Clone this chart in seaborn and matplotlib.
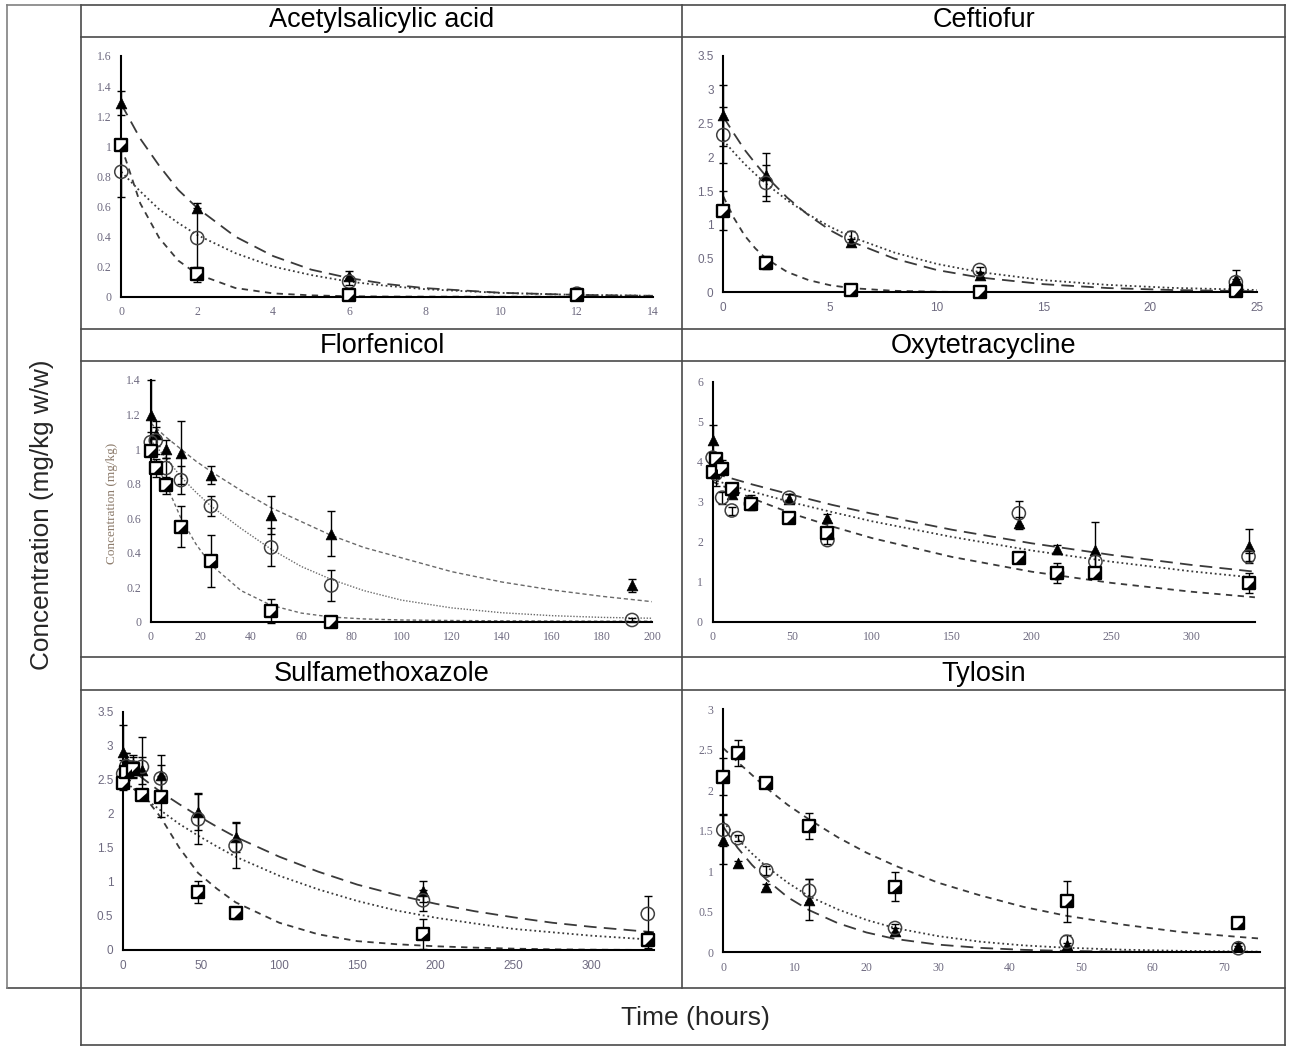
import numpy as np
import matplotlib
matplotlib.use("Agg")
import matplotlib.pyplot as plt
from matplotlib.lines import Line2D
from matplotlib.path import Path
from matplotlib.markers import MarkerStyle
import seaborn as sns

# ---------------- DATA ----------------
titles = ["Acetylsalicylic acid", "Ceftiofur", "Florfenicol",
          "Oxytetracycline", "Sulfamethoxazole", "Tylosin"]
y_label = "Concentration (mg/kg w/w)"
x_label = "Time (hours)"
inner_label = "Concentration (mg/kg)"

# Acetylsalicylic acid
asa_t = [0, 2, 6, 12]
asa_tri = [1.29, 0.59, 0.14, 0.02]
asa_tri_err = [0.08, 0.03, 0.03, 0.01]
asa_cir = [0.83, 0.39, 0.10, 0.02]
asa_cir_err = [0.17, 0.20, 0.02, 0.01]
asa_sq = [1.01, 0.15, 0.01, 0.01]
asa_sq_err = [0.02, 0.05, 0.0, 0.0]
asa_fit_x = [0, 0.5, 1, 1.5, 2, 3, 4, 5, 6, 7, 8, 10, 12, 14]
asa_fit_tri = [1.28, 1.05, 0.87, 0.71, 0.59, 0.40, 0.27, 0.18, 0.124, 0.084, 0.057, 0.026, 0.012, 0.006]
asa_fit_cir = [0.83, 0.70, 0.58, 0.49, 0.41, 0.29, 0.20, 0.144, 0.10, 0.072, 0.05, 0.025, 0.012, 0.006]
asa_fit_sq = [1.0, 0.62, 0.39, 0.24, 0.15, 0.058, 0.022, 0.009, 0.003, 0.001, 0.0005, 0.0, 0.0, 0.0]

# Ceftiofur
cef_t = [0, 2, 6, 12, 24]
cef_tri = [2.62, 1.74, 0.74, 0.26, 0.19]
cef_tri_err = [0.45, 0.32, 0.05, 0.04, 0.14]
cef_cir = [2.33, 1.62, 0.81, 0.33, 0.15]
cef_cir_err = [0.42, 0.27, 0.10, 0.04, 0.05]
cef_sq = [1.21, 0.44, 0.03, 0.0, 0.02]
cef_sq_err = [0.29, 0.10, 0.02, 0.01, 0.01]
cef_fit_x = [0, 0.5, 1, 1.5, 2, 3, 4, 5, 6, 8, 10, 12, 15, 18, 21, 25]
cef_fit_tri = [2.6, 2.35, 2.11, 1.91, 1.72, 1.40, 1.14, 0.92, 0.75, 0.50, 0.33, 0.22, 0.12, 0.063, 0.034, 0.015]
cef_fit_cir = [2.25, 2.07, 1.90, 1.75, 1.61, 1.36, 1.15, 0.97, 0.82, 0.59, 0.42, 0.30, 0.18, 0.11, 0.066, 0.034]
cef_fit_sq = [1.42, 1.10, 0.84, 0.65, 0.50, 0.30, 0.18, 0.105, 0.062, 0.022, 0.008, 0.003, 0.001, 0.0, 0.0, 0.0]

# Florfenicol
flo_t = [0, 2, 6, 12, 24, 48, 72, 192]
flo_tri = [1.20, 1.09, 1.00, 0.98, 0.85, 0.62, 0.51, 0.21]
flo_tri_err = [0.20, 0.07, 0.05, 0.18, 0.05, 0.11, 0.13, 0.04]
flo_cir = [1.04, 1.05, 0.89, 0.82, 0.67, 0.43, 0.21, 0.01]
flo_cir_err = [0.06, 0.08, 0.06, 0.08, 0.06, 0.11, 0.09, 0.01]
flo_sq = [0.99, 0.89, 0.79, 0.55, 0.35, 0.06, 0.0, np.nan]
flo_sq_err = [0.03, 0.05, 0.05, 0.12, 0.15, 0.07, 0.0, 0.0]
flo_fit_x = [0, 6, 12, 18, 24, 36, 48, 60, 72, 85, 100, 120, 140, 160, 180, 200]
flo_fit_tri = [1.15, 1.07, 1.00, 0.93, 0.87, 0.76, 0.66, 0.58, 0.50, 0.43, 0.37, 0.29, 0.23, 0.184, 0.147, 0.116]
flo_fit_cir = [1.05, 0.95, 0.84, 0.75, 0.67, 0.54, 0.42, 0.32, 0.245, 0.18, 0.125, 0.08, 0.052, 0.035, 0.025, 0.02]
flo_fit_sq = [0.98, 0.80, 0.60, 0.45, 0.33, 0.18, 0.095, 0.05, 0.027, 0.016, 0.01, 0.007, 0.005, 0.004, 0.003, 0.003]

# Oxytetracycline
oxy_t = [0, 2, 6, 12, 24, 48, 72, 192, 216, 240, 336]
oxy_tri = [4.55, 4.05, 3.95, 3.20, 3.05, 3.08, 2.60, 2.46, 1.81, 1.80, 1.90]
oxy_tri_err = [0.38, 0.10, 0.10, 0.10, 0.12, 0.12, 0.10, 0.15, 0.12, 0.70, 0.42]
oxy_cir = [4.10, 3.70, 3.10, 2.78, 2.95, 3.10, 2.04, 2.71, 1.21, 1.50, 1.63]
oxy_cir_err = [0.10, 0.30, 0.15, 0.10, 0.15, 0.10, 0.10, 0.30, 0.25, 0.20, 0.10]
oxy_sq = [3.75, 4.08, 3.83, 3.33, 2.95, 2.60, 2.21, 1.60, 1.22, 1.23, 0.96]
oxy_sq_err = [0.10, 0.10, 0.10, 0.10, 0.10, 0.08, 0.10, 0.08, 0.10, 0.08, 0.25]
oxy_fit_x = [0, 25, 50, 75, 100, 150, 200, 250, 300, 340]
oxy_fit_tri = [3.72, 3.43, 3.17, 2.92, 2.70, 2.30, 1.96, 1.67, 1.42, 1.25]
oxy_fit_cir = [3.55, 3.25, 2.98, 2.74, 2.51, 2.12, 1.78, 1.50, 1.26, 1.10]
oxy_fit_sq = [3.50, 3.08, 2.70, 2.38, 2.09, 1.62, 1.25, 0.97, 0.75, 0.61]

# Sulfamethoxazole
sul_t = [0, 2, 6, 12, 24, 48, 72, 192, 336]
sul_tri = [2.91, 2.78, 2.72, 2.64, 2.57, 2.03, 1.66, 0.86, 0.17]
sul_tri_err = [0.40, 0.12, 0.15, 0.20, 0.29, 0.27, 0.22, 0.15, 0.05]
sul_cir = [2.59, 2.70, 2.68, 2.69, 2.52, 1.92, 1.53, 0.73, 0.53]
sul_cir_err = [0.20, 0.20, 0.15, 0.44, 0.20, 0.37, 0.33, 0.15, 0.26]
sul_sq = [2.45, 2.62, 2.66, 2.28, 2.25, 0.85, 0.54, 0.23, 0.15]
sul_sq_err = [0.10, 0.12, 0.12, 0.08, 0.30, 0.16, 0.08, 0.22, 0.12]
sul_fit_x = [0, 12, 24, 36, 48, 60, 72, 100, 125, 150, 175, 200, 225, 250, 275, 300, 340]
sul_fit_tri = [2.75, 2.53, 2.32, 2.14, 1.97, 1.81, 1.66, 1.37, 1.15, 0.96, 0.81, 0.68, 0.57, 0.48, 0.40, 0.34, 0.26]
sul_fit_cir = [2.5, 2.26, 2.05, 1.85, 1.68, 1.52, 1.37, 1.09, 0.89, 0.72, 0.58, 0.475, 0.39, 0.31, 0.26, 0.21, 0.15]
sul_fit_sq = [2.45, 2.30, 1.95, 1.50, 1.13, 0.90, 0.70, 0.40, 0.23, 0.13, 0.085, 0.055, 0.035, 0.02, 0.01, 0.005, 0.0]

# Tylosin
tyl_t = [0, 2, 6, 12, 24, 48, 72]
tyl_tri = [1.39, 1.10, 0.81, 0.65, 0.26, 0.09, 0.08]
tyl_tri_err = [0.30, 0.03, 0.03, 0.25, 0.04, 0.03, 0.04]
tyl_cir = [1.51, 1.41, 1.01, 0.76, 0.30, 0.13, 0.05]
tyl_cir_err = [0.20, 0.04, 0.05, 0.14, 0.05, 0.08, 0.03]
tyl_sq = [2.17, 2.46, 2.09, 1.56, 0.81, 0.63, 0.36]
tyl_sq_err = [0.23, 0.16, 0.03, 0.16, 0.18, 0.25, 0.03]
tyl_fit_x = [0, 2, 4, 6, 9, 12, 16, 20, 24, 30, 36, 42, 48, 56, 64, 72, 75]
tyl_fit_tri = [1.55, 1.29, 1.08, 0.90, 0.68, 0.52, 0.36, 0.245, 0.165, 0.095, 0.054, 0.03, 0.017, 0.008, 0.004, 0.002, 0.001]
tyl_fit_cir = [1.61, 1.40, 1.22, 1.06, 0.86, 0.69, 0.53, 0.40, 0.30, 0.20, 0.13, 0.085, 0.056, 0.032, 0.018, 0.01, 0.008]
tyl_fit_sq = [2.52, 2.35, 2.19, 2.03, 1.82, 1.64, 1.42, 1.23, 1.07, 0.86, 0.70, 0.56, 0.45, 0.34, 0.25, 0.19, 0.17]

# Tick values
asa_xticks = [0, 2, 4, 6, 8, 10, 12, 14]
asa_yticks = [0, 0.2, 0.4, 0.6, 0.8, 1, 1.2, 1.4, 1.6]
cef_xticks = [0, 5, 10, 15, 20, 25]
cef_yticks = [0, 0.5, 1, 1.5, 2, 2.5, 3, 3.5]
flo_xticks = [0, 20, 40, 60, 80, 100, 120, 140, 160, 180, 200]
flo_yticks = [0, 0.2, 0.4, 0.6, 0.8, 1, 1.2, 1.4]
oxy_xticks = [0, 50, 100, 150, 200, 250, 300]
oxy_yticks = [0, 1, 2, 3, 4, 5, 6]
sul_xticks = [0, 50, 100, 150, 200, 250, 300]
sul_yticks = [0, 0.5, 1, 1.5, 2, 2.5, 3, 3.5]
tyl_xticks = [0, 10, 20, 30, 40, 50, 60, 70]
tyl_yticks = [0, 0.5, 1, 1.5, 2, 2.5, 3]

# ---------------- FIGURE ----------------
W, H = 1292, 1046
sns.set_theme(style="white")
plt.rcParams['font.family'] = ['Liberation Sans', 'DejaVu Sans']
fig = plt.figure(figsize=(W / 100, H / 100), dpi=100)
fig.patch.set_facecolor("white")


def fx(px):
    return px / W


def fy(py):
    return 1 - py / H


GRID = "#4a4a4a"


def seg(x0, y0, x1, y1, lw=1.2, color=GRID):
    fig.add_artist(Line2D([fx(x0), fx(x1)], [fy(y0), fy(y1)],
                          transform=fig.transFigure, color=color, lw=lw,
                          solid_capstyle="projecting"))


# table grid
for y in [5, 37, 329, 361, 657, 690]:
    seg(81, y, 1285, y)
seg(7, 5, 81, 5, color="#808080")
seg(7, 988, 1285, 988)
seg(81, 1045, 1285, 1045)
seg(7, 5, 7, 988, color="#808080")
seg(81, 5, 81, 1045)
seg(682, 5, 682, 988)
seg(1285, 5, 1285, 1045)

# titles
SANS = ["Liberation Sans", "DejaVu Sans"]
title_pos = [(382, 20), (983.5, 20), (382, 346), (983.5, 346), (382, 674), (983.5, 674)]
for ttl, (px, py) in zip(titles, title_pos):
    fig.text(fx(px), fy(py), ttl, ha="center", va="center", fontsize=19.5,
             family=SANS, color="black")
fig.text(fx(42), fy(515), y_label, rotation=90, ha="center", va="center",
         fontsize=18.8, family=SANS)
fig.text(fx(695), fy(1018), x_label, ha="center", va="center",
         fontsize=19, family=SANS)

# wedge marker for the squares (lower-right black triangle)
wedge = MarkerStyle(Path([(-1, 1), (-0.45, -1), (1, -1), (1, 0.45), (-0.45, -1)],
                         [Path.MOVETO, Path.MOVETO, Path.LINETO, Path.LINETO, Path.CLOSEPOLY]))

TICK_COLOR = "#6e6a80"

panels = [
    # rect px: left, right, y0, ytop
    dict(rect=(121.3, 652.9, 296.7, 56.0), xmax=14, ymax=1.6, xt=asa_xticks, yt=asa_yticks, font="Liberation Serif",
         t=asa_t, tri=asa_tri, tri_e=asa_tri_err, cir=asa_cir, cir_e=asa_cir_err, sq=asa_sq, sq_e=asa_sq_err,
         fx_=asa_fit_x, ftri=asa_fit_tri, fcir=asa_fit_cir, fsq=asa_fit_sq, lc="#3a3a3a", lw=1.3),
    dict(rect=(723.3, 1257.2, 292.3, 56.0), xmax=25, ymax=3.5, xt=cef_xticks, yt=cef_yticks, font="Liberation Sans",
         t=cef_t, tri=cef_tri, tri_e=cef_tri_err, cir=cef_cir, cir_e=cef_cir_err, sq=cef_sq, sq_e=cef_sq_err,
         fx_=cef_fit_x, ftri=cef_fit_tri, fcir=cef_fit_cir, fsq=cef_fit_sq, lc="#3a3a3a", lw=1.3),
    dict(rect=(150.8, 652.1, 621.7, 380.0), xmax=200, ymax=1.4, xt=flo_xticks, yt=flo_yticks, font="Liberation Serif",
         t=flo_t, tri=flo_tri, tri_e=flo_tri_err, cir=flo_cir, cir_e=flo_cir_err, sq=flo_sq, sq_e=flo_sq_err,
         fx_=flo_fit_x, ftri=flo_fit_tri, fcir=flo_fit_cir, fsq=flo_fit_sq, lc="#6a6a6a", lw=1.0),
    dict(rect=(712.6, 1254.9, 621.7, 381.7), xmax=340, ymax=6, xt=oxy_xticks, yt=oxy_yticks, font="Liberation Serif",
         t=oxy_t, tri=oxy_tri, tri_e=oxy_tri_err, cir=oxy_cir, cir_e=oxy_cir_err, sq=oxy_sq, sq_e=oxy_sq_err,
         fx_=oxy_fit_x, ftri=oxy_fit_tri, fcir=oxy_fit_cir, fsq=oxy_fit_sq, lc="#3a3a3a", lw=1.3),
    dict(rect=(123.2, 654.0, 950.0, 711.7), xmax=340, ymax=3.5, xt=sul_xticks, yt=sul_yticks, font="Liberation Sans",
         t=sul_t, tri=sul_tri, tri_e=sul_tri_err, cir=sul_cir, cir_e=sul_cir_err, sq=sul_sq, sq_e=sul_sq_err,
         fx_=sul_fit_x, ftri=sul_fit_tri, fcir=sul_fit_cir, fsq=sul_fit_sq, lc="#3a3a3a", lw=1.3),
    dict(rect=(723.3, 1259.9, 952.3, 709.3), xmax=75, ymax=3, xt=tyl_xticks, yt=tyl_yticks, font="Liberation Serif",
         t=tyl_t, tri=tyl_tri, tri_e=tyl_tri_err, cir=tyl_cir, cir_e=tyl_cir_err, sq=tyl_sq, sq_e=tyl_sq_err,
         fx_=tyl_fit_x, ftri=tyl_fit_tri, fcir=tyl_fit_cir, fsq=tyl_fit_sq, lc="#3a3a3a", lw=1.3),
]


def fmt(v):
    return f"{v:g}"


for i, p in enumerate(panels):
    l, r, y0, yt = p["rect"]
    ax = fig.add_axes([fx(l), fy(y0), (r - l) / W, (y0 - yt) / H])
    ax.set_facecolor("none")
    flo = (i == 2)

    # fitted curves
    ls_tri = (0, (3, 2)) if flo else (0, (7, 4))
    ls_cir = (0, (1, 1.2)) if flo else (0, (1, 1.6))
    ls_sq = (0, (2.5, 2)) if flo else (0, (3.5, 3))
    sns.lineplot(x=p["fx_"], y=p["ftri"], ax=ax, color=p["lc"], lw=p["lw"], linestyle=ls_tri,
                 estimator=None, sort=False, errorbar=None, legend=False, zorder=2)
    sns.lineplot(x=p["fx_"], y=p["fcir"], ax=ax, color=p["lc"], lw=p["lw"], linestyle=ls_cir,
                 estimator=None, sort=False, errorbar=None, legend=False, zorder=2)
    sns.lineplot(x=p["fx_"], y=p["fsq"], ax=ax, color=p["lc"], lw=p["lw"], linestyle=ls_sq,
                 estimator=None, sort=False, errorbar=None, legend=False, zorder=2)

    # error bars
    for yv, ev in [(p["tri"], p["tri_e"]), (p["cir"], p["cir_e"]), (p["sq"], p["sq_e"])]:
        eb = ax.errorbar(p["t"], yv, yerr=ev, fmt="none", ecolor="black", elinewidth=1.0,
                         capsize=3, capthick=1.0, zorder=2.5)
        for art in list(eb.lines[1]) + list(eb.lines[2]):
            art.set_clip_on(False)

    # markers
    sns.scatterplot(x=p["t"], y=p["tri"], ax=ax, marker="^", s=60, color="black",
                    edgecolor="black", linewidth=0.5, zorder=4, clip_on=False, legend=False)
    sns.scatterplot(x=p["t"], y=p["cir"], ax=ax, marker="o", s=90, facecolor="none",
                    edgecolor="#404040", linewidth=1.1, zorder=5, clip_on=False, legend=False)
    sns.scatterplot(x=p["t"], y=p["sq"], ax=ax, marker="s", s=65, color="white",
                    edgecolor="black", linewidth=1.7, zorder=6, clip_on=False, legend=False)
    sns.scatterplot(x=p["t"], y=p["sq"], ax=ax, marker=wedge, s=65, color="black",
                    edgecolor="none", linewidth=0, zorder=7, clip_on=False, legend=False)

    ax.set_xlim(0, p["xmax"])
    ax.set_ylim(0, p["ymax"])
    ax.set_xticks(p["xt"])
    ax.set_yticks(p["yt"])
    ax.set_xticklabels([fmt(v) for v in p["xt"]])
    ax.set_yticklabels([fmt(v) for v in p["yt"]])
    ax.tick_params(length=0, pad=7, labelsize=8.5, labelcolor=TICK_COLOR)
    for lab in ax.get_xticklabels() + ax.get_yticklabels():
        lab.set_family([p["font"], "DejaVu Sans"])
    ax.set_xlabel("")
    ax.set_ylabel("")
    for s in ["top", "right"]:
        ax.spines[s].set_visible(False)
    for s in ["left", "bottom"]:
        ax.spines[s].set_color("black")
        ax.spines[s].set_linewidth(1.5)
    ax.grid(False)

# small inner y label in the Florfenicol panel
fig.text(fx(112), fy(503), inner_label, rotation=90, ha="center", va="center",
         fontsize=9.5, color="#8c7b6b", family=["Liberation Serif", "DejaVu Serif"])

fig.savefig("out.png", dpi=100, facecolor="white")
